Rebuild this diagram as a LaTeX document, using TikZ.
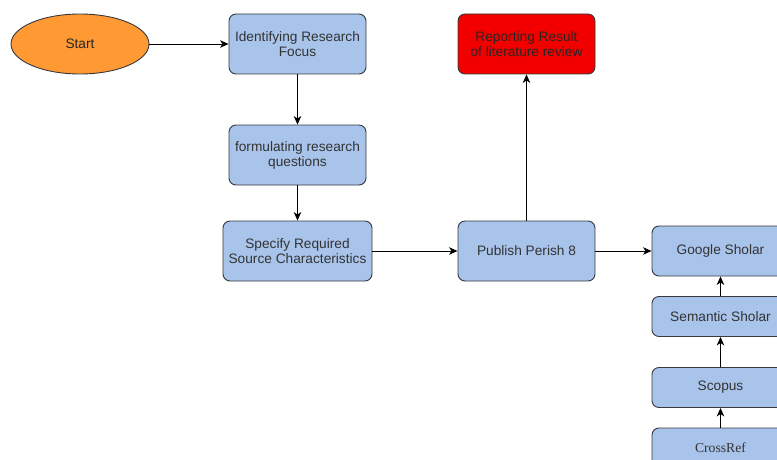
\documentclass[tikz,border=0pt]{standalone}
\usepackage{fontspec}
\setmainfont{Liberation Sans}
\newfontfamily\crfont{Liberation Serif}
\usetikzlibrary{arrows.meta,shapes.geometric}
\definecolor{boxblue}{HTML}{A9C4EB}
\definecolor{startorange}{HTML}{FF9933}
\definecolor{reportred}{HTML}{F20000}
\definecolor{edgegray}{HTML}{36393D}
\definecolor{txtgray}{HTML}{333333}
\begin{document}
\begin{tikzpicture}[x=1pt,y=-1pt,font=\fontsize{13.7}{15}\selectfont,
  stepbox/.style={draw=edgegray,fill=boxblue,rounded corners=7pt,line width=0.9pt,
    minimum width=137pt,minimum height=60pt,align=center,text=txtgray,inner sep=2pt},
  dbbox/.style={stepbox,minimum height=40pt},
  flow/.style={-{Stealth[length=8.5pt,width=7.5pt,inset=2.5pt]},line width=0.9pt}]
\useasboundingbox (0,0) rectangle (777,460);
\clip (0,0) rectangle (777,460);
% left column
\node[draw=edgegray,fill=startorange,ellipse,line width=0.9pt,minimum width=138pt,
  minimum height=60pt,inner sep=0pt,text=black!85] (start) at (80,44) {Start};
\node[stepbox] (focus) at (297.5,44) {Identifying Research\\Focus};
\node[stepbox] (quest) at (297.5,155) {formulating research\\questions};
\node[stepbox,minimum width=149pt] (source) at (297.5,251)
  {Specify Required\\Source Characteristics};
% middle column
\node[stepbox] (perish) at (526.5,251) {Publish Perish 8};
\node[stepbox,fill=reportred,text=black!85] (report) at (526.5,44)
  {Reporting Result\\of literature review};
% databases
\node[stepbox,minimum height=50pt] (google) at (720.5,251) {Google Sholar};
\node[dbbox] (semantic) at (720.5,316.5) {Semantic Sholar};
\node[dbbox] (scopus) at (720.5,387.5) {Scopus};
\node[dbbox] (crossref) at (720.5,448) {\crfont CrossRef};
% connectors
\draw[flow] (start) -- (focus);
\draw[flow] (focus) -- (quest);
\draw[flow] (quest) -- (source);
\draw[flow] (source) -- (perish);
\draw[flow] (perish) -- (report);
\draw[flow] (perish) -- (google);
\foreach \a/\b in {semantic/google,scopus/semantic,crossref/scopus}
  \draw[flow] (\a) -- (\b);
\end{tikzpicture}
\end{document}
